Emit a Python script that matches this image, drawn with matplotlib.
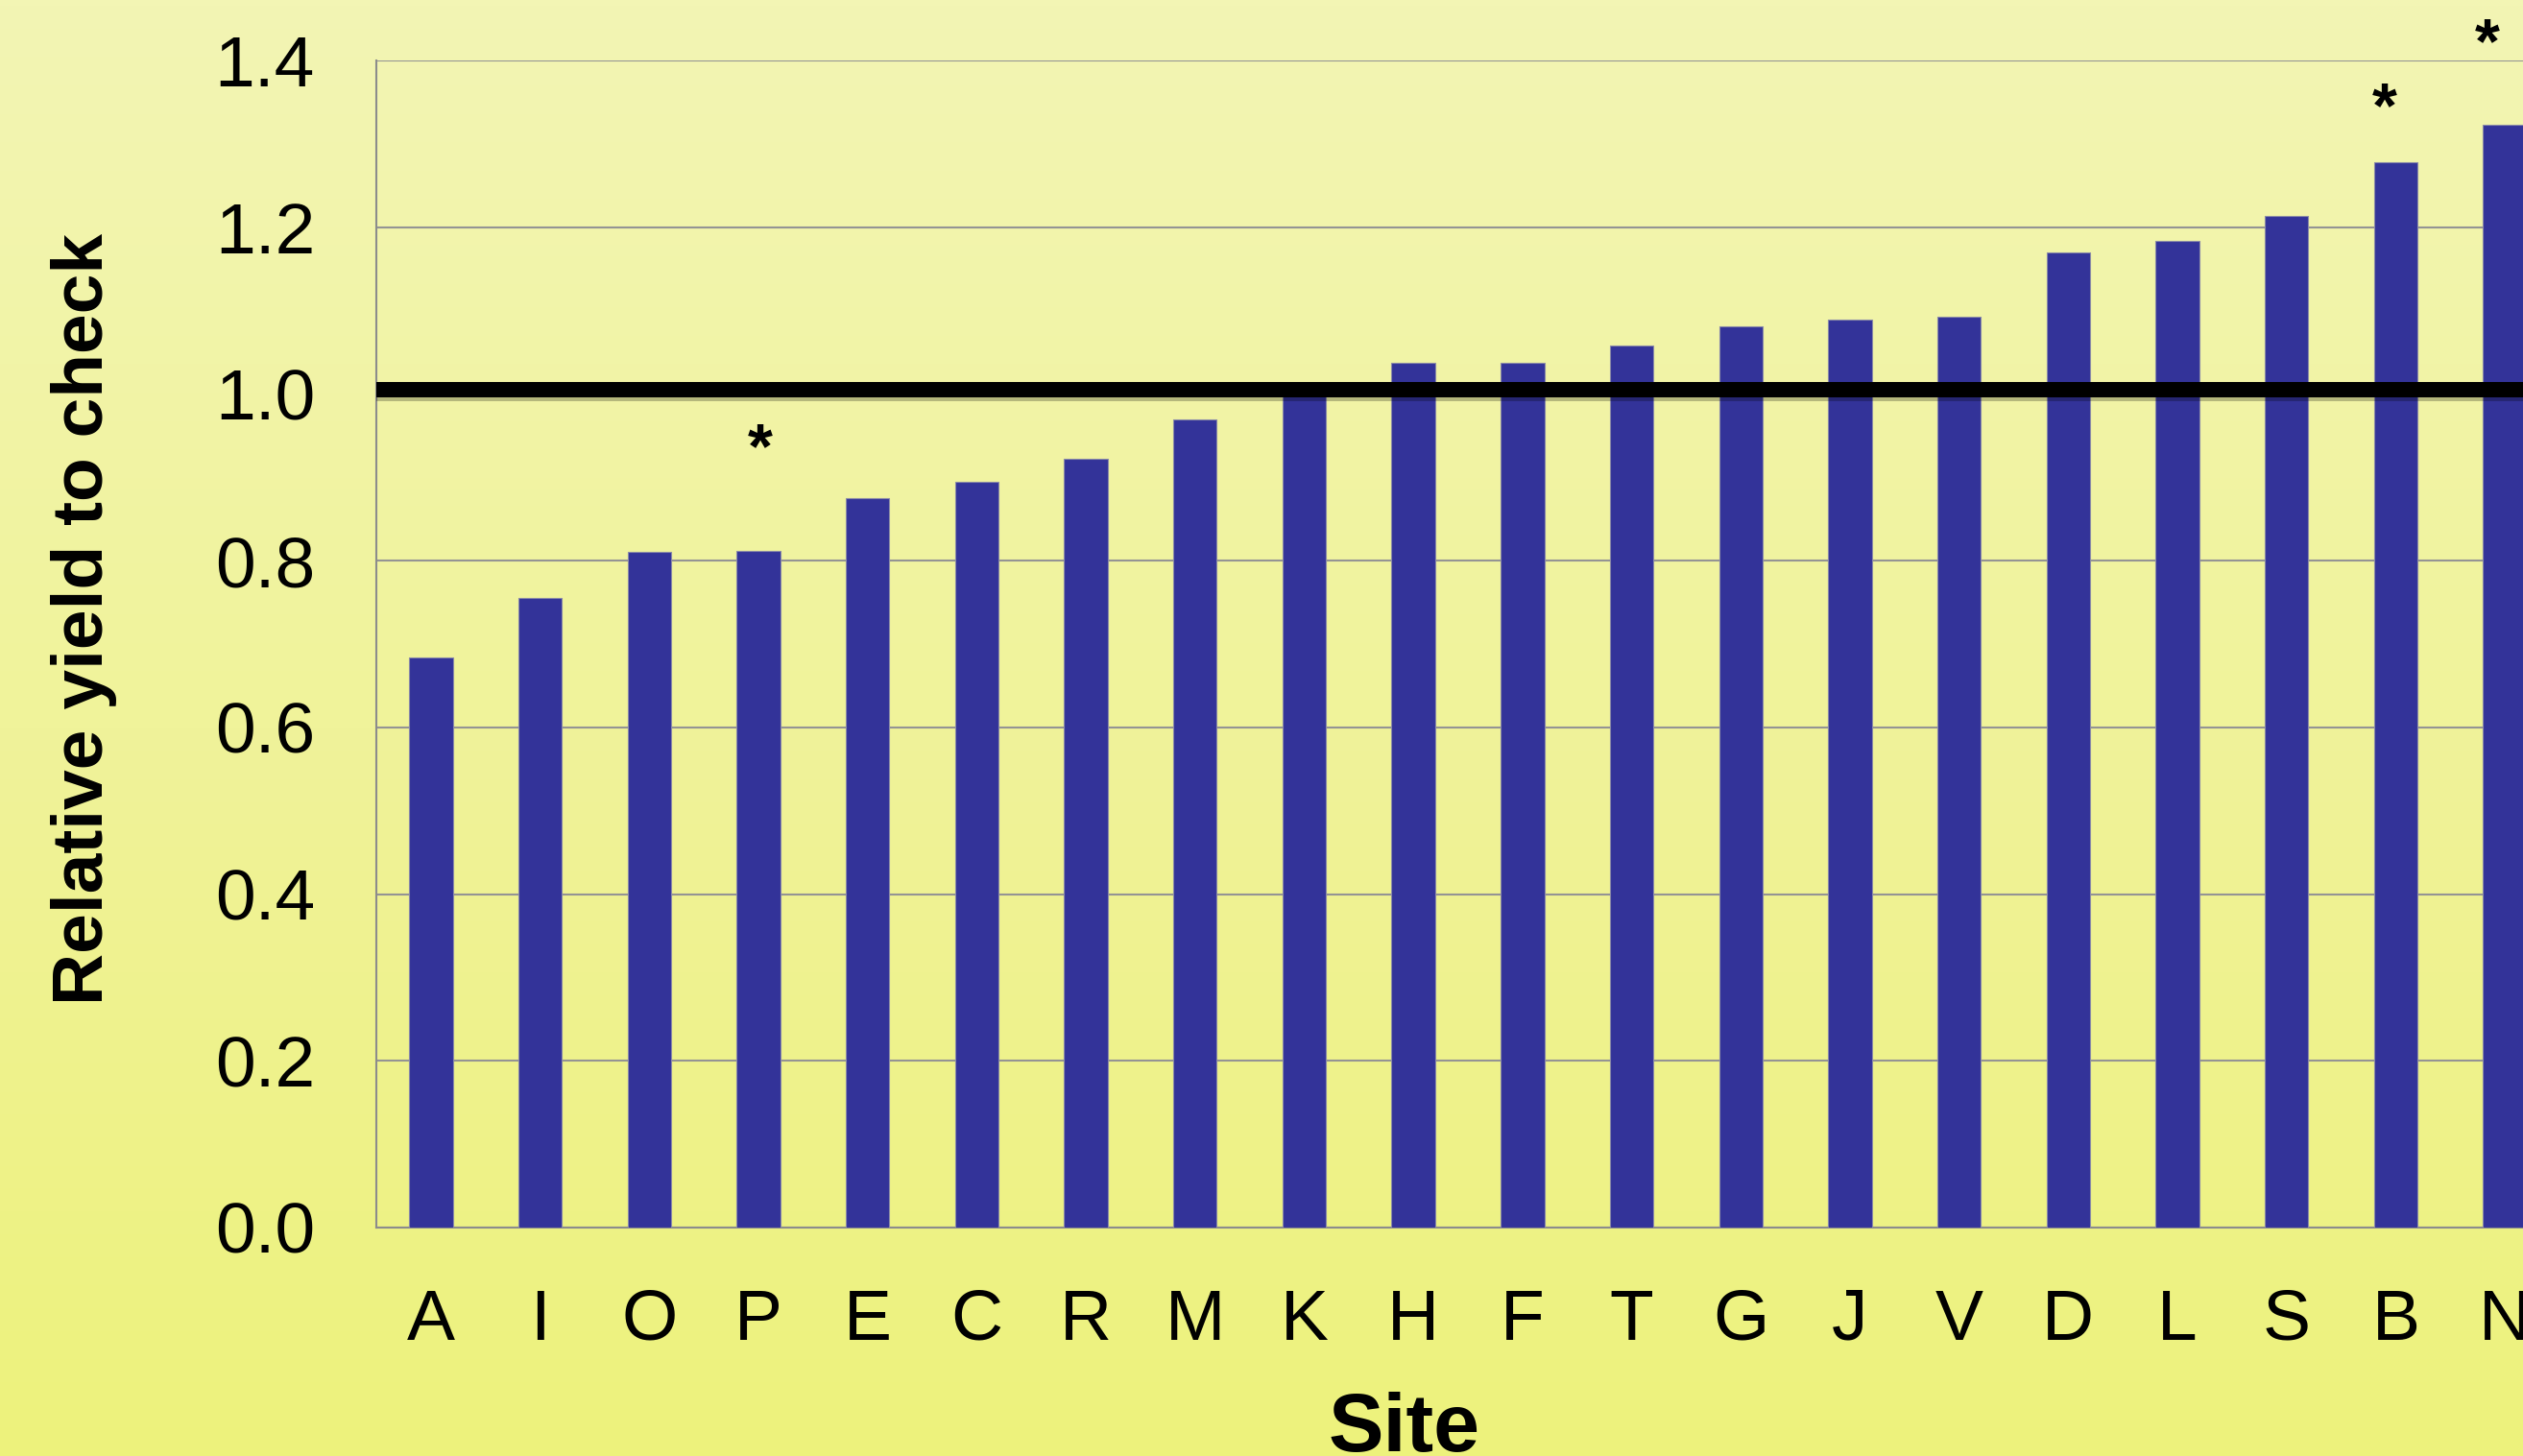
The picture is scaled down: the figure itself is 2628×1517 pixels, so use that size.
import numpy as np
import matplotlib
matplotlib.use("Agg")
import matplotlib.pyplot as plt
from matplotlib import patheffects as pe
from matplotlib.colors import LinearSegmentedColormap

# Relative yield of each site compared with the check
sites = ["A", "I", "O", "P", "E", "C", "R", "M", "K", "H",
         "F", "T", "G", "J", "V", "D", "L", "S", "B", "N"]
relative_yield = [0.684, 0.755, 0.810, 0.812, 0.875, 0.894, 0.922, 0.969, 1.000, 1.037,
                  1.037, 1.058, 1.081, 1.089, 1.093, 1.170, 1.184, 1.213, 1.278, 1.323]
significant_sites = ["P", "B", "N"]
check_level = 1.0
y_ticks = [0.0, 0.2, 0.4, 0.6, 0.8, 1.0, 1.2, 1.4]

plt.rcParams["font.family"] = ["Liberation Sans", "DejaVu Sans"]

W, H, DPI = 2628, 1517, 100
fig = plt.figure(figsize=(W / DPI, H / DPI), dpi=DPI)

# Soft vertical yellow gradient behind everything
bg = fig.add_axes([0, 0, 1, 1], zorder=-10)
grad_cmap = LinearSegmentedColormap.from_list("bg", ["#EDF27C", "#F0F39A", "#F3F5B4"])
bg.imshow(np.linspace(0, 1, 256).reshape(-1, 1), aspect="auto", cmap=grad_cmap,
          origin="lower", extent=[0, 1, 0, 1])
bg.set_axis_off()

left, right, bottom, top = 392, 2666, 1279, 63
ax = fig.add_axes([left / W, 1 - bottom / H, (right - left) / W, (bottom - top) / H])
ax.set_facecolor("none")

x = np.arange(len(sites))
ax.bar(x, relative_yield, width=0.4, color="#333399", edgecolor="#8a8aa8",
       linewidth=0.8, zorder=3)

ax.set_xlim(-0.5, len(sites) - 0.5)
ax.set_ylim(0, 1.4)
ax.set_yticks(y_ticks)
ax.set_yticklabels([f"{v:.1f}" for v in y_ticks])
ax.set_xticks(x)
ax.set_xticklabels(sites)
ax.tick_params(axis="both", length=0, labelsize=54, colors="black")
ax.tick_params(axis="x", pad=45)
ax.tick_params(axis="y", pad=46)

ax.yaxis.grid(True, color="#949494", linewidth=1.5, zorder=0)
ax.set_axisbelow(True)
for side in ["top", "right"]:
    ax.spines[side].set_visible(False)
for side in ["left", "bottom"]:
    ax.spines[side].set_color("#8c8c8c")
    ax.spines[side].set_linewidth(1.5)

# Check level reference line
ax.axhline(check_level + 0.005, color="black", linewidth=11.5, zorder=4,
           path_effects=[pe.SimpleLineShadow(offset=(0, -3), alpha=0.25), pe.Normal()])

# Significance markers
star_pos = {"P": (0.02, 0.912), "B": (-0.1, 1.321), "N": (-0.16, 1.397)}
for s in significant_sites:
    i = sites.index(s)
    dx, yy = star_pos[s]
    ax.text(i + dx, yy, "*", ha="center", va="baseline", fontsize=48,
            fontweight="bold", color="black", zorder=5)

ax.set_ylabel("Relative yield to check", fontsize=54, fontweight="bold", va="center")
ax.yaxis.set_label_coords((88 - left) / (right - left), (bottom - 645) / (bottom - top))
ax.set_xlabel("Site", fontsize=62, fontweight="bold", va="baseline")
ax.xaxis.set_label_coords((1463 - left) / (right - left), (bottom - 1512) / (bottom - top))

fig.savefig("out.png", dpi=DPI)
